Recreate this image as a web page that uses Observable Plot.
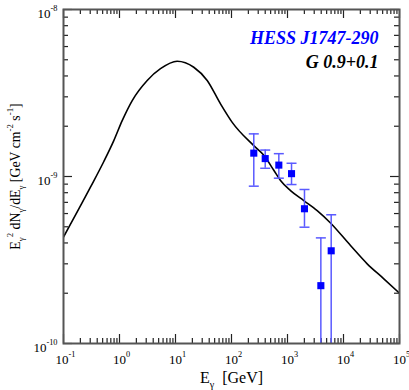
<!DOCTYPE html>
<html>
<head>
<meta charset="utf-8">
<script src="https://cdn.jsdelivr.net/npm/d3@7"></script>
<script src="https://cdn.jsdelivr.net/npm/@observablehq/plot@0.6"></script>
<style>
  html, body { margin: 0; padding: 0; background: #fff; }
  #chart svg { display: block; font-family: 'Liberation Serif', 'Times New Roman', Times, serif; }
  #chart svg text, #chart svg tspan { font-family: 'Liberation Serif', 'Times New Roman', Times, serif; }
</style>
</head>
<body>
<div id="chart"></div>
<script>
// Model curve (E in GeV, E^2 dN/dE in GeV cm^-2 s^-1)
const curveE = [0.1, 0.303, 0.525, 0.791, 1.117, 1.687, 3.126, 5.395, 10.7, 21.2, 36.8, 63.7, 103, 250, 378, 569, 750, 1132, 1954, 3388, 5861, 13335, 26485, 52481, 100000];
const curveF = [4.34e-10, 8.63e-10, 1.23e-9, 1.64e-9, 2.16e-9, 2.85e-9, 3.76e-9, 4.42e-9, 4.90e-9, 4.51e-9, 3.76e-9, 2.72e-9, 2.11e-9, 1.53e-9, 1.34e-9, 1.09e-9, 9.46e-10, 8.24e-10, 7.18e-10, 6.25e-10, 5.27e-10, 3.86e-10, 3.00e-10, 2.44e-10, 2.00e-10];

// HESS J1747-290 data points
const dataE  = [250, 400, 700, 1180, 2010, 3940, 6030];
const dataF  = [1.38e-9, 1.28e-9, 1.17e-9, 1.04e-9, 6.41e-10, 2.22e-10, 3.59e-10];
const dataHi = [1.80e-9, 1.44e-9, 1.37e-9, 1.20e-9, 8.36e-10, 4.29e-10, 5.90e-10];
const dataLo = [8.75e-10, 1.12e-9, 9.77e-10, 8.95e-10, 4.97e-10, 1e-12, 1e-12];

// Axis ticks
const xTicks = [0.1, 1, 10, 100, 1000, 10000, 100000];
const xTickLabels = ["10^{-1}", "10^{0}", "10^{1}", "10^{2}", "10^{3}", "10^{4}", "10^{5}"];
const yTicks = [1e-10, 1e-9, 1e-8];
const yTickLabels = ["10^{-10}", "10^{-9}", "10^{-8}"];
const minorMult = [2, 3, 4, 5, 6, 7, 8, 9];

const xTitle = "E_{γ}  [GeV]";
const yTitle = "E_{γ}^{2} dN_{γ}/dE_{γ} [GeV cm^{-2} s^{-1}]";
const label1 = "HESS J1747-290";
const label2 = "G 0.9+0.1";

const curve = curveE.map((e, i) => ({e, f: curveF[i]}));
const points = dataE.map((e, i) => ({e, f: dataF[i], hi: dataHi[i], lo: dataLo[i]}));
const xMinor = xTicks.slice(0, -1).flatMap(t => minorMult.map(m => t * m));
const yMinor = yTicks.slice(0, -1).flatMap(t => minorMult.map(m => t * m));

const W = 409, H = 390;
const mt = 9, mr = 10, mb = 47, ml = 63;
const pw = W - ml - mr, ph = H - mt - mb;
const major = 9, minor = 5;

const capSymbol = {
  draw(context, size) {
    const r = Math.sqrt(size / Math.PI);
    context.moveTo(-r, 0);
    context.lineTo(r, 0);
  }
};
const errColor = "#5a5aff";
const tickColor = "#222";
const serif = "'Liberation Serif', 'Times New Roman', Times, serif";

const plot = Plot.plot({
  width: W,
  height: H,
  marginTop: mt, marginRight: mr, marginBottom: mb, marginLeft: ml,
  style: {"font-family": serif, background: "#fff", overflow: "visible"},
  x: {type: "log", domain: [0.1, 1e5], axis: null},
  y: {type: "log", domain: [1e-10, 1e-8], axis: null},
  marks: [
    // ticks (inward, all four sides)
    Plot.tickX(xTicks, {x: d => d, insetTop: ph - major, stroke: tickColor, strokeWidth: 1.2}),
    Plot.tickX(xTicks, {x: d => d, insetBottom: ph - major, stroke: tickColor, strokeWidth: 1.2}),
    Plot.tickX(xMinor, {x: d => d, insetTop: ph - minor, stroke: tickColor, strokeWidth: 1.2}),
    Plot.tickX(xMinor, {x: d => d, insetBottom: ph - minor, stroke: tickColor, strokeWidth: 1.2}),
    Plot.tickY(yTicks, {y: d => d, insetRight: pw - major, stroke: tickColor, strokeWidth: 1.2}),
    Plot.tickY(yTicks, {y: d => d, insetLeft: pw - major, stroke: tickColor, strokeWidth: 1.2}),
    Plot.tickY(yMinor, {y: d => d, insetRight: pw - minor, stroke: tickColor, strokeWidth: 1.2}),
    Plot.tickY(yMinor, {y: d => d, insetLeft: pw - minor, stroke: tickColor, strokeWidth: 1.2}),
    // tick labels
    Plot.text(xTicks, {x: d => d, frameAnchor: "bottom", text: (d, i) => xTickLabels[i], textAnchor: "middle", lineAnchor: "middle", dy: 16, dx: 2, fontSize: 13, fontFamily: serif, fill: "#000"}),
    Plot.text(yTicks, {y: d => d, frameAnchor: "left", text: (d, i) => yTickLabels[i], textAnchor: "end", lineAnchor: "middle", dx: -6, dy: 4, fontSize: 13, fontFamily: serif, fill: "#000"}),
    // model curve
    Plot.line(curve, {x: "e", y: "f", curve: "monotone-x", stroke: "#000", strokeWidth: 1.6, clip: true}),
    // error bars
    Plot.ruleX(points, {x: "e", y1: "lo", y2: "hi", stroke: errColor, strokeWidth: 1.5, clip: true}),
    Plot.dot(points, {x: "e", y: "hi", symbol: capSymbol, r: 5, stroke: errColor, strokeWidth: 1.5, clip: true}),
    Plot.dot(points, {x: "e", y: "lo", symbol: capSymbol, r: 5, stroke: errColor, strokeWidth: 1.5, clip: true}),
    Plot.dot(points, {x: "e", y: "f", symbol: "square", r: 4, fill: "#0000ff", stroke: null}),
    // frame
    Plot.frame({stroke: "#555", strokeWidth: 2}),
    // labels
    Plot.text([label1], {frameAnchor: "top-right", text: d => d, textAnchor: "end", lineAnchor: "middle", dx: -21, dy: 29, fontSize: 18, fontWeight: "bold", fontStyle: "italic", fontFamily: serif, fill: "#0000ff"}),
    Plot.text([label2], {frameAnchor: "top-right", text: d => d, textAnchor: "end", lineAnchor: "middle", dx: -21, dy: 53, fontSize: 18, fontWeight: "bold", fontStyle: "italic", fontFamily: serif, fill: "#000"}),
    // axis titles
    Plot.text([xTitle], {frameAnchor: "bottom", text: d => d, textAnchor: "middle", lineAnchor: "middle", dy: 34, fontSize: 16, fontFamily: serif, fill: "#000"}),
    Plot.text([yTitle], {frameAnchor: "left", text: d => d, textAnchor: "middle", lineAnchor: "middle", rotate: -90, dx: -48, fontSize: 13.8, fontFamily: serif, fill: "#000"})
  ]
});

document.getElementById("chart").appendChild(plot);

// Render ^{..} and _{..} as super/subscripts
const NS = "http://www.w3.org/2000/svg";
function rich(el) {
  const str = el.textContent;
  if (!/[\^_]\{/.test(str)) return;
  const size = parseFloat(getComputedStyle(el).fontSize) || 12;
  while (el.firstChild) el.removeChild(el.firstChild);
  const re = /([\^_])\{([^}]*)\}|([^\^_]+)/g;
  let m, shift = 0;
  while ((m = re.exec(str))) {
    const t = document.createElementNS(NS, "tspan");
    let target = 0;
    if (m[1]) {
      target = m[1] === "^" ? -0.48 * size : 0.32 * size;
      t.setAttribute("font-size", (size * 0.64).toFixed(2));
      t.textContent = m[2];
    } else {
      t.textContent = m[3];
    }
    t.setAttribute("dy", (target - shift).toFixed(2));
    shift = target;
    el.appendChild(t);
  }
}
plot.querySelectorAll("text").forEach(rich);
</script>
</body>
</html>
